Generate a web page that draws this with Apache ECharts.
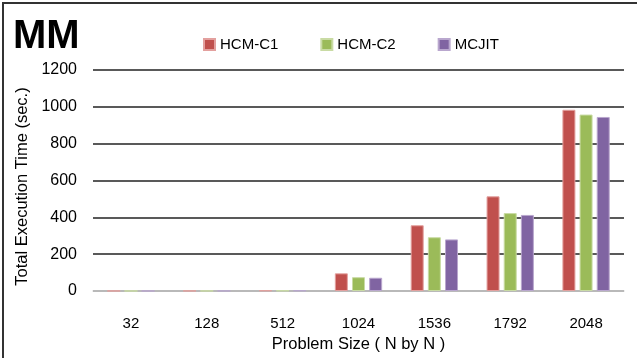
<!DOCTYPE html>
<html>
<head>
<meta charset="utf-8">
<script src="https://cdn.jsdelivr.net/npm/echarts@6/dist/echarts.min.js"></script>
<style>
html,body{margin:0;padding:0;background:#fff;}
#frame{position:absolute;left:2px;top:2px;width:635px;height:356px;border-top:2px solid #333;border-left:2px solid #333;box-sizing:border-box;}
#chart{position:absolute;left:0;top:0;width:637px;height:358px;}
</style>
</head>
<body>
<div id="frame"></div>
<div id="chart"></div>
<script>
const categories = ['32', '128', '512', '1024', '1536', '1792', '2048'];
const hcmC1 = [0.5, 1, 3, 96, 357, 514, 984];
const hcmC2 = [0.4, 0.8, 2.5, 75, 292, 423, 958];
const mcjit = [0.4, 0.8, 2.5, 72, 280, 413, 945];
const seriesNames = ['HCM-C1', 'HCM-C2', 'MCJIT'];
const colors = ['#C0504D', '#9BBB59', '#8064A2'];
const borders = ['#E3A09E', '#C9DBA4', '#B9A7CE'];
const yTicks = [0, 200, 400, 600, 800, 1000, 1200];

const font = 'Liberation Sans, Arial, sans-serif';
const chart = echarts.init(document.getElementById('chart'));
const data = [hcmC1, hcmC2, mcjit];
chart.setOption({
  animation: false,
  title: {
    text: 'MM', left: 8, top: 12,
    textStyle: {fontFamily: font, fontSize: 40, fontWeight: 'bold', color: '#000'}
  },
  legend: {
    data: seriesNames, left: 198, top: 32, itemWidth: 11, itemHeight: 11, itemGap: 42,
    icon: 'rect',
    textStyle: {fontFamily: font, fontSize: 15, color: '#000'}
  },
  grid: {left: 93, right: 13, top: 70, bottom: 60},
  xAxis: {
    type: 'category', data: categories,
    name: 'Problem Size ( N by N )', nameLocation: 'middle', nameGap: 45,
    nameTextStyle: {fontFamily: font, fontSize: 16.5, color: '#000'},
    axisLine: {lineStyle: {color: '#d9d9d9', width: 1.5}},
    axisTick: {show: false},
    axisLabel: {fontFamily: font, fontSize: 15, color: '#000', margin: 25}
  },
  yAxis: {
    type: 'value', min: yTicks[0], max: yTicks[yTicks.length - 1], interval: 200,
    name: 'Total Execution Time (sec.)', nameLocation: 'middle', nameGap: 62,
    nameTextStyle: {fontFamily: font, fontSize: 16.5, color: '#000', padding: [0, 12, 0, 0]},
    axisLine: {show: false}, axisTick: {show: false},
    axisLabel: {fontFamily: font, fontSize: 16, color: '#000', margin: 16, formatter: v => String(v)},
    splitLine: {lineStyle: {color: '#222', width: 1.5}}
  },
  series: seriesNames.map((n, i) => ({
    name: n, type: 'bar', data: data[i], barWidth: 13, barGap: '32%',
    itemStyle: {color: colors[i], borderColor: borders[i], borderWidth: 1}
  }))
});
</script>
</body>
</html>
